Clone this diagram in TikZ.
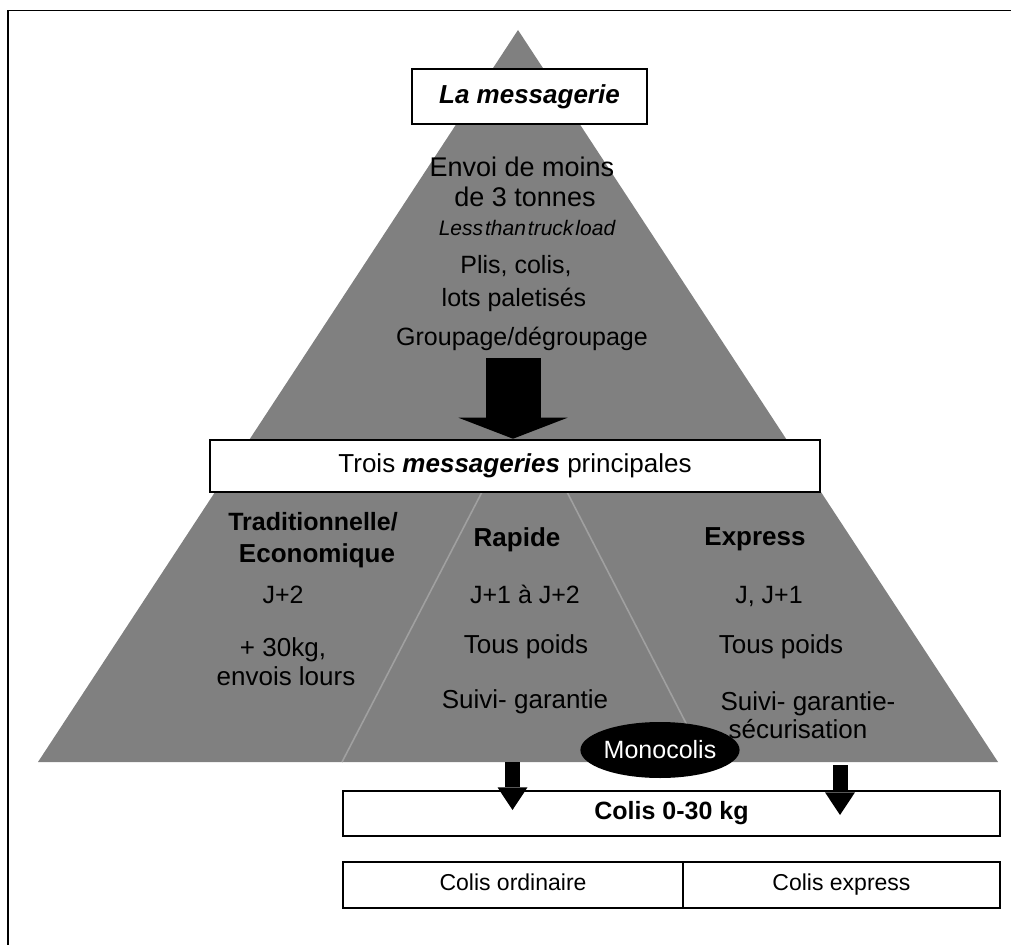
\documentclass[tikz,border=0pt]{standalone}
\usepackage{fontspec}
\setmainfont{Liberation Sans}
\usetikzlibrary{arrows.meta,shapes.geometric}
\newcommand\pxfont[1]{\fontsize{\dimexpr #1pt*3/4\relax}{\dimexpr #1pt*9/10\relax}\selectfont}
\definecolor{pyrgray}{RGB}{128,128,128}
\definecolor{pyrline}{RGB}{160,160,160}
\begin{document}
\begin{tikzpicture}[x=0.75pt,y=-0.75pt,
  frame/.style={draw=black,line width=1.2pt},
  txt/.style={anchor=base,inner sep=0pt,font=\pxfont{26}},
  txts/.style={anchor=base,inner sep=0pt,font=\pxfont{25}},
  headtxt/.style={anchor=base,inner sep=0pt,font=\pxfont{26}\bfseries},
  wbox/.style={draw=black,fill=white,line width=1.9pt,inner sep=0pt},
  divline/.style={draw=pyrline,line width=1.2pt},
  bigarrow/.style={line width=41.25pt,-{Triangle[width=81.75pt,length=15.75pt,line width=0pt]}},
  smallarrow/.style={line width=11.25pt,-{Triangle[width=22.5pt,length=17pt,line width=0pt]}}
]
\useasboundingbox (0,0) rectangle (1011,945);
% frame
\draw[frame] (8,945) -- (8,10.5) -- (1011,10.5);
% pyramid
\fill[pyrgray] (518,30) -- (38,762) -- (998,762) -- cycle;
\draw[divline] (482,492) -- (342,762);
\draw[divline] (567,492) -- (706,762);
% top box
\node[wbox,minimum width=176.25pt,minimum height=41.25pt,font=\pxfont{26}] (lm) at (529.5,96.5) {\textbf{\textit{La messagerie}}};
% top texts
\node[txt,font=\pxfont{27}] (t1) at (522,177) {Envoi de moins};
\node[txt,font=\pxfont{27}] (t2) at (525,207) {de 3 tonnes};
\node[txt,font=\pxfont{21}\itshape] (t3) at (527,236) {Less\hspace{1.5pt}than\hspace{1.5pt}truck\hspace{1.5pt}load};
\node[txts] (t4) at (516,274) {Plis, colis,};
\node[txts] (t5) at (514,306) {lots paletisés};
\node[txts] (t6) at (522,345) {Groupage/dégroupage};
% main box
\node[wbox,minimum width=457.5pt,minimum height=39pt,font=\pxfont{26}] (trois) at (515,466) {Trois \textbf{\textit{messageries}} principales\hspace{13.5pt}};
% big arrow
\coordinate (ba) at (513,358);
\draw[bigarrow] (ba) -- (ba |- trois.north);
% left column
\node[headtxt,font=\pxfont{25}\bfseries] (trad) at (313,530) {Traditionnelle/};
\node[headtxt] (eco) at (317,562) {Economique};
\node[txts] (tj2) at (283,603) {J+2};
\node[txt] (t30) at (283,656) {+ 30kg,};
\node[txt] (tlourd) at (286,685) {envois lours};
% middle column
\node[headtxt] (rap) at (517,546) {Rapide};
\node[txts] (rj) at (525,603) {J+1 à J+2};
\node[txt] (rp) at (526,653) {Tous poids};
\node[txt] (rs) at (525,708) {Suivi- garantie};
% right column
\node[headtxt] (exp) at (755,545) {Express};
\node[txts] (ej) at (769,603) {J, J+1};
\node[txt] (ep) at (781,653) {Tous poids};
\node[txt] (es1) at (808,710) {Suivi- garantie-};
\node[txt] (es2) at (798,738) {sécurisation};
% bottom boxes
\node[wbox,minimum width=492.75pt,minimum height=33.75pt,font=\pxfont{25}\bfseries] (colis) at (671.5,813.5) {\vphantom{Cg}Colis 0-30 kg\hspace{19.5pt}};
\node[wbox,minimum width=255pt,minimum height=34.5pt,font=\pxfont{23}] (cord) at (513,885) {\vphantom{Cp}Colis ordinaire\hspace{9pt}};
\node[wbox,minimum width=237.75pt,minimum height=34.5pt,font=\pxfont{23}] (cexp) at (841.5,885) {\vphantom{Cp}Colis express\hspace{30pt}};
% ellipse
\node[ellipse,fill=black,minimum width=114pt,minimum height=42pt,inner sep=0pt,text=white,font=\pxfont{25}] (mono) at (660,750) {Monocolis};
% small arrows
\coordinate (la1) at (512.5,762);
\coordinate (la2) at (512.5,810);
\coordinate (ra1) at (840,765);
\coordinate (ra2) at (840,815);
\draw[smallarrow] (la1) -- (la2);
\draw[smallarrow] (ra1) -- (ra2);
\end{tikzpicture}
\end{document}
